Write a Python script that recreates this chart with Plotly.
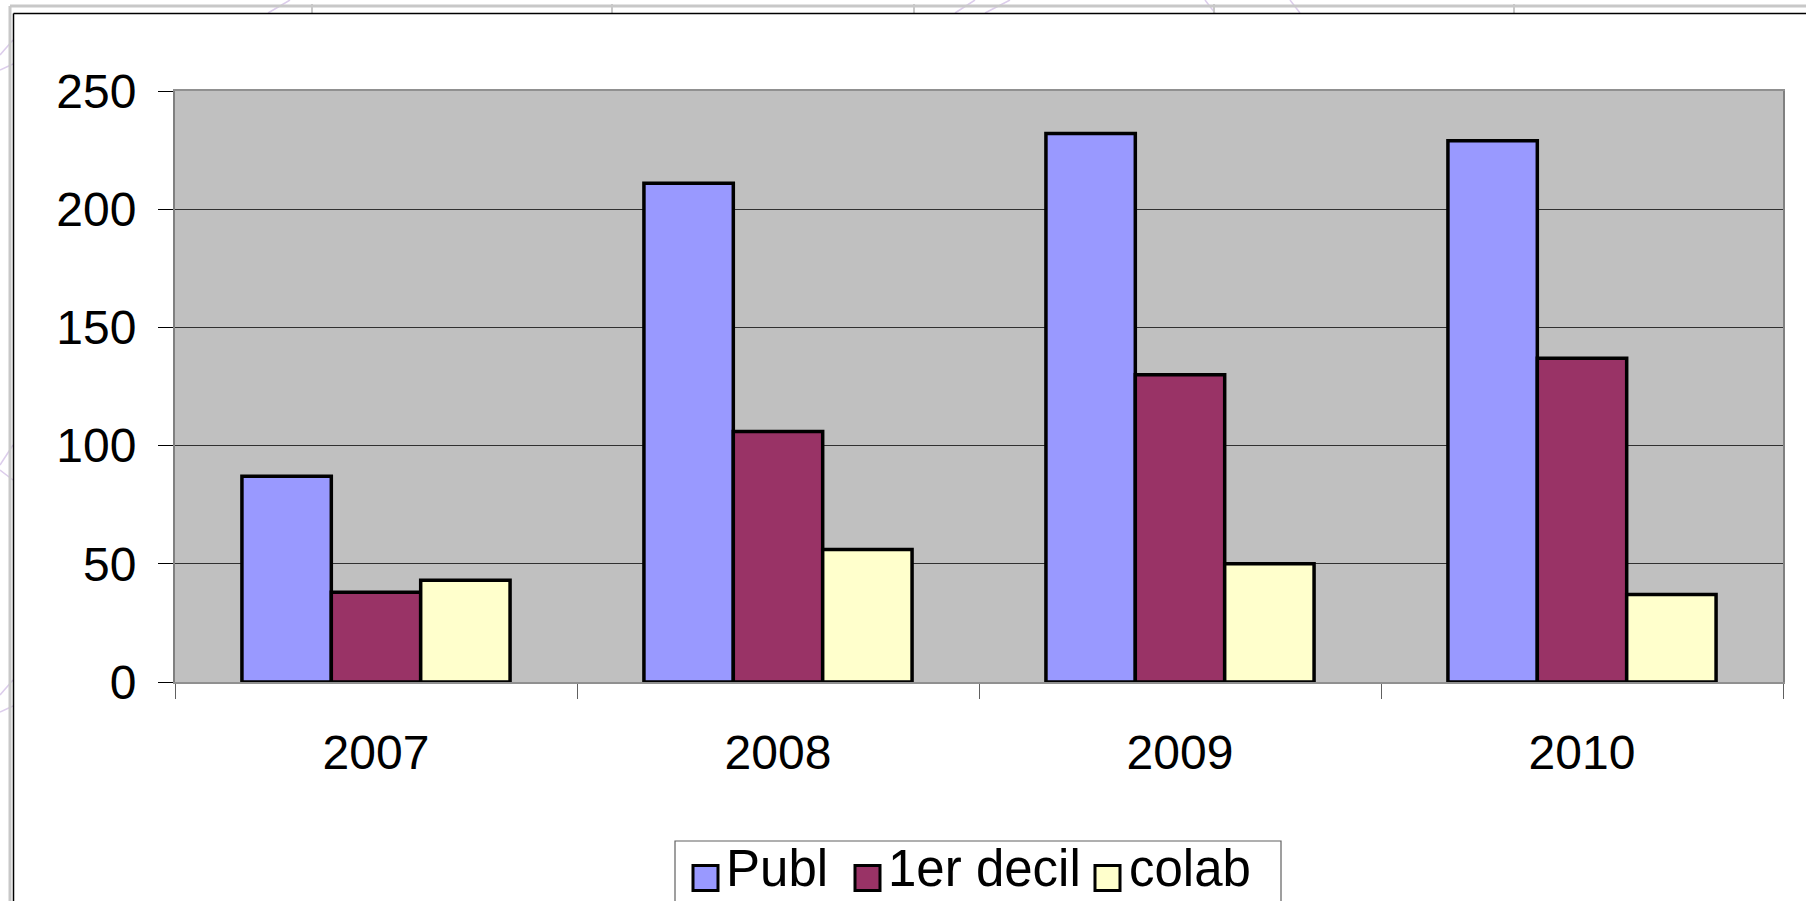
import plotly.graph_objects as go

years = ["2007", "2008", "2009", "2010"]
publ = [87, 211, 232, 229]
decil = [38, 106, 130, 137]
colab = [43, 56, 50, 37]
series_names = ["Publ", "1er decil", "colab"]
series_colors = ["#9999FF", "#993366", "#FFFFCC"]
y_ticks = [0, 50, 100, 150, 200, 250]

W, H = 1806, 901
L, R, T, B = 175, 23, 91, 219
PW, PH = W - L - R, H - T - B


def px(x):
    return (x - L) / PW


def py(y):
    return (H - B - y) / PH


fig = go.Figure()
for name, vals, col in zip(series_names, [publ, decil, colab], series_colors):
    fig.add_trace(go.Bar(
        x=years, y=vals, name=name, showlegend=False,
        marker=dict(color=col, line=dict(color="black", width=3.5)),
    ))

font_family = "Liberation Sans, Arial, sans-serif"
shapes = []
annotations = []

# slide decorations (faint lavender arcs) outside the chart frame
deco = [
    ((268, 13), (290, 0)), ((955, 13), (975, 0)), ((985, 13), (1010, 0)),
    ((1205, 0), (1215, 13)), ((1290, 0), (1300, 13)),
    ((0, 55), (13, 40)), ((0, 70), (13, 64)), ((0, 465), (13, 445)),
    ((0, 470), (13, 480)), ((0, 695), (13, 680)), ((0, 712), (13, 706)),
]
for (x0, y0), (x1, y1) in deco:
    shapes.append(dict(type="line", xref="paper", yref="paper",
                       x0=px(x0), y0=py(y0), x1=px(x1), y1=py(y1),
                       line=dict(color="#DCCDEB", width=1.5), layer="below"))
# outer gray slide frame
shapes.append(dict(type="line", xref="paper", yref="paper",
                   x0=px(10), y0=py(6), x1=px(W), y1=py(6),
                   line=dict(color="#C8C8C8", width=3)))
shapes.append(dict(type="line", xref="paper", yref="paper",
                   x0=px(10), y0=py(6), x1=px(10), y1=py(H),
                   line=dict(color="#C8C8C8", width=3)))
for tx in [312, 612, 914, 1214, 1514]:
    shapes.append(dict(type="line", xref="paper", yref="paper",
                       x0=px(tx), y0=py(4), x1=px(tx), y1=py(13),
                       line=dict(color="#C8C8C8", width=2)))
# black chart frame
shapes.append(dict(type="line", xref="paper", yref="paper",
                   x0=px(13.5), y0=py(13.5), x1=px(W), y1=py(13.5),
                   line=dict(color="black", width=1.5)))
shapes.append(dict(type="line", xref="paper", yref="paper",
                   x0=px(13.5), y0=py(13.5), x1=px(13.5), y1=py(H),
                   line=dict(color="black", width=1.5)))

# legend (box, swatches, labels)
shapes.append(dict(type="rect", xref="paper", yref="paper",
                   x0=px(675), y0=py(841), x1=px(1281), y1=py(H + 5),
                   line=dict(color="#606060", width=1.2), fillcolor="white"))
legend_sw_x = [693, 855, 1095]
legend_tx_x = [724, 886, 1127]
sw = 25
sw_cy = 878
tx_cy = 868
for name, col, sx, tx in zip(series_names, series_colors, legend_sw_x, legend_tx_x):
    shapes.append(dict(type="rect", xref="paper", yref="paper",
                       x0=px(sx), y0=py(sw_cy - sw / 2), x1=px(sx + sw), y1=py(sw_cy + sw / 2),
                       line=dict(color="black", width=3), fillcolor=col))
    annotations.append(dict(xref="paper", yref="paper", x=px(tx), y=py(tx_cy),
                            xanchor="left", yanchor="middle", showarrow=False,
                            text=name, font=dict(size=51, family=font_family, color="black")))

fig.update_layout(
    width=W, height=H, autosize=False,
    margin=dict(l=L, r=R, t=T, b=B, pad=0, autoexpand=False),
    paper_bgcolor="white", plot_bgcolor="#C0C0C0",
    barmode="group", bargap=0.333, bargroupgap=0,
    font=dict(family=font_family, color="black", size=48),
    shapes=shapes, annotations=annotations,
    showlegend=False,
    xaxis=dict(
        type="category", categoryorder="array", categoryarray=years,
        showgrid=False, showline=True, linecolor="#909090", linewidth=2,
        mirror=True, ticks="outside", tickson="boundaries", ticklen=15,
        tickcolor="#606060", tickwidth=1,
        tickfont=dict(size=48), ticklabelstandoff=27, zeroline=False,
    ),
    yaxis=dict(
        range=[0, 250], tickvals=y_ticks, showgrid=True,
        gridcolor="#303030", gridwidth=1,
        showline=True, linecolor="#808080", linewidth=2, mirror=True,
        ticks="outside", ticklen=15, tickcolor="black", tickwidth=1,
        tickfont=dict(size=48), ticklabelstandoff=12, zeroline=False,
    ),
)

fig.write_html(
    "out.html",
    config={"displayModeBar": False},
    post_script="document.body.style.margin='0';document.body.style.overflow='hidden';",
)
